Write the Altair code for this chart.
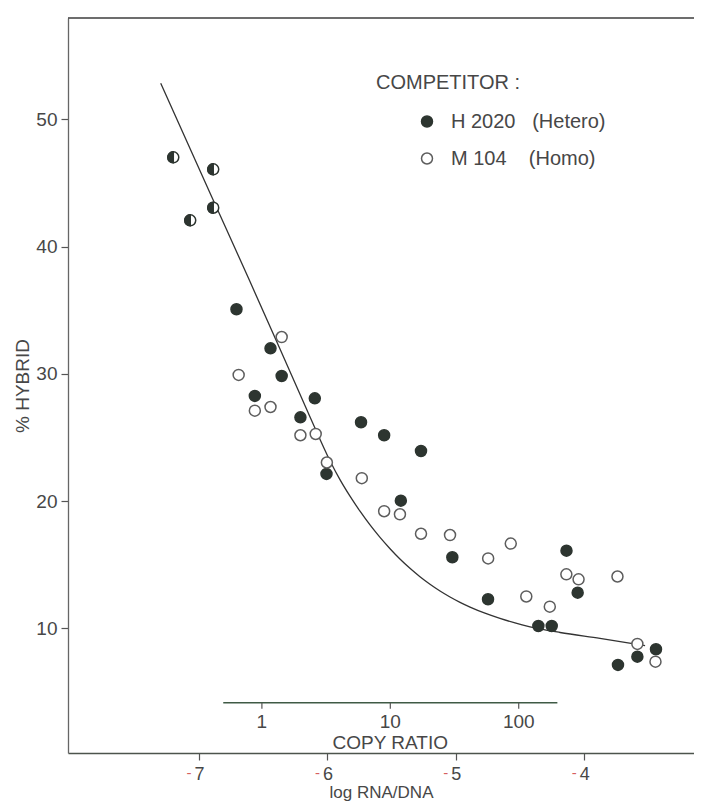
import math
import altair as alt
import pandas as pd

# ---------------- data ----------------
# H 2020 (Hetero) competitor: filled circles
hetero_x = [-6.708, -6.443, -6.356, -6.565, -6.098, -6.210, -5.738, -5.558, -5.271, -6.007,
            -5.428, -5.027, -4.138, -4.749, -4.051, -4.357, -4.253, -3.441, -3.586, -3.737]
hetero_y = [35.07, 32.00, 29.83, 28.26, 28.07, 26.58, 26.19, 25.17, 23.93, 22.13,
            20.03, 15.58, 16.10, 12.28, 12.80, 10.18, 10.18, 8.35, 7.77, 7.12]

# M 104 (Homo) competitor: open circles
homo_x = [-6.356, -6.691, -6.565, -6.443, -6.210, -6.091, -6.004, -5.732, -5.558, -5.435,
          -5.271, -5.045, -4.572, -4.748, -4.139, -4.044, -3.741, -4.451, -4.268, -3.586, -3.445]
homo_y = [32.89, 29.91, 27.10, 27.39, 25.17, 25.27, 23.03, 21.80, 19.20, 18.96,
          17.43, 17.33, 16.66, 15.49, 14.24, 13.85, 14.07, 12.50, 11.70, 8.77, 7.38]

# coinciding points (half-filled symbols)
both_x = [-7.200, -6.889, -7.068, -6.889]
both_y = [47.01, 46.07, 42.06, 43.05]

# fitted curve
curve_x = [-7.298, -6.901, -6.608, -6.369, -6.136, -5.980, -5.902, -5.824, -5.746, -5.668,
           -5.590, -5.512, -5.435, -5.357, -5.279, -5.201, -5.123, -5.045, -4.967, -4.889,
           -4.773, -4.656, -4.539, -4.422, -4.188, -3.877, -3.526]
curve_y = [52.83, 43.92, 37.37, 31.95, 26.63, 23.17, 21.68, 20.38, 19.20, 18.12,
           17.14, 16.25, 15.44, 14.71, 14.05, 13.46, 12.93, 12.46, 12.04, 11.67,
           11.19, 10.78, 10.42, 10.12, 9.67, 9.20, 8.63]

x_ticks = [-7, -6, -5, -4]
y_ticks = [10, 20, 30, 40, 50]
copy_ticks = [1, 10, 100]
copy_span = [0.5, 200]
copy_offset = -6.51          # log RNA/DNA at copy ratio 1
legend_labels = ["H 2020\u00a0\u00a0\u00a0(Hetero)", "M 104\u00a0\u00a0\u00a0\u00a0(Homo)"]

# ---------------- styling ----------------
FONT = "Liberation Sans"
TXT = "#474747"
AX = "#555555"
DARK = "#2d3530"
OPEN = "#5d5d5d"
W, H = 626, 735
XDOM = [-8.020, -3.145]
YDOM = [0.2, 57.96]

xs = alt.Scale(domain=XDOM, nice=False, zero=False)
ys = alt.Scale(domain=YDOM, nice=False, zero=False)

x_axis = alt.Axis(values=x_ticks, title="log RNA/DNA", labelExpr="'' + abs(datum.value)",
                  grid=False, tickSize=7, tickWidth=1.2, tickColor=AX, domainColor="#4d544d",
                  domainWidth=1.5, labelFont=FONT, labelFontSize=18, labelColor=TXT,
                  labelPadding=5, titleFont=FONT, titleFontSize=17, titleFontWeight="normal",
                  titleColor=TXT, titlePadding=1)
y_axis = alt.Axis(values=y_ticks, title="% HYBRID", grid=False, tickSize=7, tickWidth=1.2,
                  tickColor=AX, domainColor="#666666", domainWidth=1.3, labelFont=FONT,
                  labelFontSize=19, labelColor=TXT, labelPadding=4, titleFont=FONT,
                  titleFontSize=19, titleFontWeight="normal", titleColor=TXT, titlePadding=3)

leg = alt.Legend(title="COMPETITOR :", orient="none", legendX=308, legendY=54.5, padding=0,
                 titleFont=FONT, titleFontSize=20, titleFontWeight="normal", titleColor=TXT,
                 titlePadding=19, labelFont=FONT, labelFontSize=20, labelColor=TXT,
                 labelOffset=14, symbolOffset=41, symbolSize=121, symbolStrokeWidth=1.5,
                 symbolType="circle", rowPadding=17, labelLimit=400)

pts = pd.DataFrame({
    "x": hetero_x + homo_x,
    "y": hetero_y + homo_y,
    "g": [legend_labels[0]] * len(hetero_x) + [legend_labels[1]] * len(homo_x),
})
both = pd.DataFrame({"x": both_x, "y": both_y})
curve = pd.DataFrame({"x": curve_x, "y": curve_y})

line = alt.Chart(curve).mark_line(interpolate="monotone", color="#333333", strokeWidth=1.3).encode(
    x=alt.X("x:Q", scale=xs, axis=x_axis),
    y=alt.Y("y:Q", scale=ys, axis=y_axis),
)

points = alt.Chart(pts).mark_point(filled=True, shape="circle", size=121, strokeWidth=1.5, opacity=1).encode(
    x=alt.X("x:Q", scale=xs),
    y=alt.Y("y:Q", scale=ys),
    fill=alt.Fill("g:N", scale=alt.Scale(domain=legend_labels, range=[DARK, "#ffffff"]), legend=leg),
    stroke=alt.Stroke("g:N", scale=alt.Scale(domain=legend_labels, range=[DARK, OPEN]), legend=leg),
)

ring = alt.Chart(both).mark_point(filled=True, shape="circle", size=121, fill="#ffffff",
                                  stroke=DARK, strokeWidth=1.5, opacity=1).encode(
    x=alt.X("x:Q", scale=xs), y=alt.Y("y:Q", scale=ys))
half = alt.Chart(both).mark_point(filled=True, shape="M0,-1A1,1,0,0,0,0,1Z", size=121, fill=DARK,
                                  stroke=DARK, strokeWidth=1.5, opacity=1).encode(
    x=alt.X("x:Q", scale=xs), y=alt.Y("y:Q", scale=ys))

# copy-ratio scale drawn inside the plot
CR_Y = 684.7
cr_span = pd.DataFrame({"c0": [copy_span[0]], "c1": [copy_span[1]]})
cr_line = alt.Chart(cr_span).transform_calculate(
    x0=f"log(datum.c0)/LN10 + ({copy_offset})", x1=f"log(datum.c1)/LN10 + ({copy_offset})"
).mark_rule(color="#3f5a45", strokeWidth=1.6).encode(
    x=alt.X("x0:Q", scale=xs), x2="x1:Q", y=alt.value(CR_Y))

cr = pd.DataFrame({"c": copy_ticks, "label": [str(c) for c in copy_ticks]})
cr_base = alt.Chart(cr).transform_calculate(xv=f"log(datum.c)/LN10 + ({copy_offset})")
cr_tick = cr_base.mark_rule(color=AX, strokeWidth=1.2).encode(
    x=alt.X("xv:Q", scale=xs), y=alt.value(CR_Y), y2=alt.value(CR_Y + 6))
cr_lab = cr_base.mark_text(font=FONT, fontSize=19, color=TXT, baseline="top", dy=10).encode(
    x=alt.X("xv:Q", scale=xs), y=alt.value(CR_Y), text="label:N")
cr_title = alt.Chart(pd.DataFrame({"t": ["COPY RATIO"]})).mark_text(
    font=FONT, fontSize=19, color=TXT, baseline="top", dy=31).encode(
    x=alt.datum(math.log10(math.sqrt(copy_span[0] * copy_span[1])) + copy_offset, scale=xs),
    y=alt.value(CR_Y), text="t:N")

# red minus signs of the bottom tick labels
minus = alt.Chart(pd.DataFrame({"v": x_ticks})).mark_text(
    text="-", font=FONT, fontSize=15, color="#d65f5f", baseline="middle", dx=-10).encode(
    x=alt.X("v:Q", scale=xs), y=alt.value(H + 20))

top = alt.Chart(pd.DataFrame({"a": [0]})).mark_rule(color="#3d3d3d", strokeWidth=1.5).encode(
    x=alt.value(0), x2=alt.value(W), y=alt.value(0))

chart = alt.layer(line, cr_line, cr_tick, cr_lab, cr_title, minus, top, points, ring, half).properties(
    width=W, height=H,
    autosize=alt.AutoSizeParams(type="none"),
    padding={"left": 60, "top": 10, "right": 0, "bottom": 48},
    background="#ffffff",
).configure_view(stroke=None)

chart.save("out.html", embed_options={"renderer": "svg", "actions": False})
